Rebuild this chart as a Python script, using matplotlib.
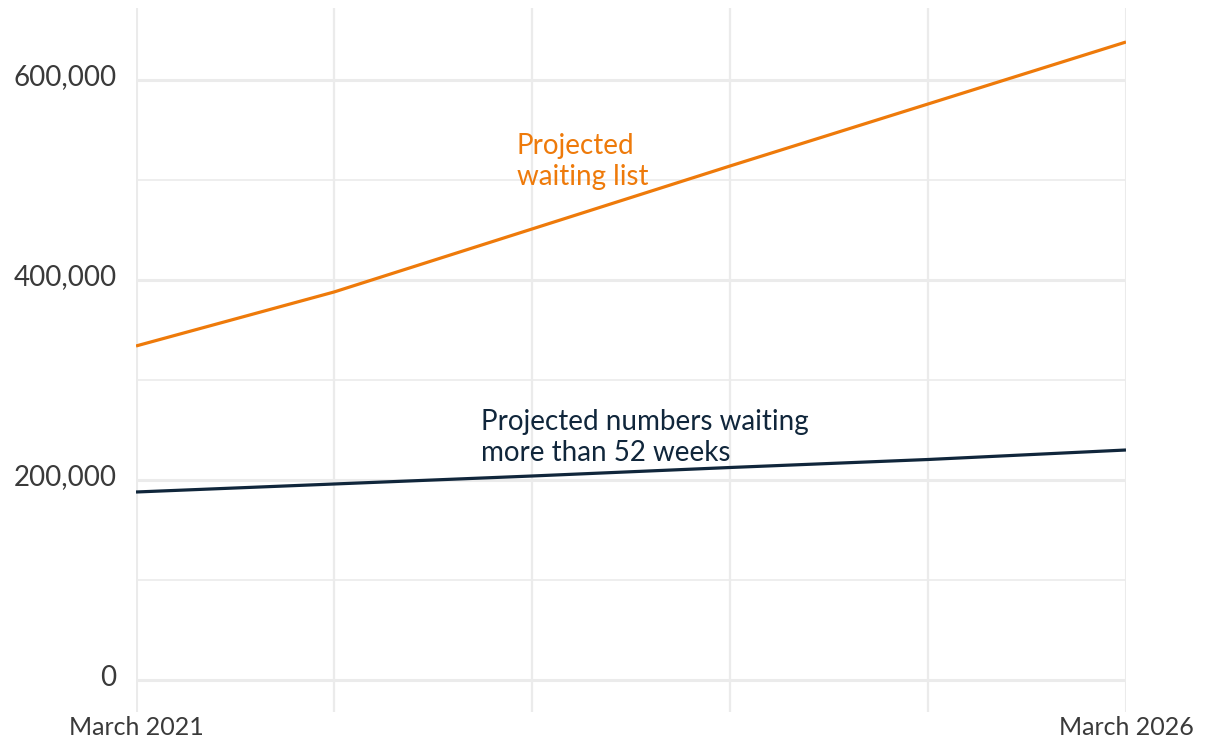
import matplotlib.pyplot as plt
import matplotlib.transforms as mtransforms
import numpy as np

# projected values, March of each year
years = [2021, 2022, 2023, 2024, 2025, 2026]
waiting_list = [334000, 388000, 451000, 514000, 576000, 638000]
over_52_weeks = [188000, 196000, 204000, 212500, 220500, 230000]

x_labels = ['March 2021', '', '', '', '', 'March 2026']
y_major = [0, 200000, 400000, 600000]
y_minor = [100000, 300000, 500000]

orange = '#EE7A0A'
navy = '#10263B'
grid_col = '#EBEBEB'
text_col = '#3A3A3A'

plt.rcParams['font.family'] = ['Lato', 'DejaVu Sans']

fig = plt.figure(figsize=(12.06, 7.40), dpi=100)
ax = fig.add_axes([136 / 1206, 1 - 712 / 740, 990 / 1206, 704 / 740])
ax.set_xlim(2021, 2026)
ax.set_ylim(-32000, 672000)

# grid lines
for y in y_major:
    ax.axhline(y, color=grid_col, lw=2.2, zorder=0)
for y in y_minor:
    ax.axhline(y, color=grid_col, lw=1.2, zorder=0)
for i, x in enumerate(years):
    w = 2.2 if i in (0, len(years) - 1) else 1.6
    ax.axvline(x, color=grid_col, lw=w, zorder=0)

ax.plot(years, waiting_list, color=orange, lw=2.3, solid_capstyle='butt')
ax.plot(years, over_52_weeks, color=navy, lw=2.3, solid_capstyle='butt')

ax.text(2022.924, 518500, 'Projected\nwaiting list', color=orange, fontsize=20,
        ha='left', va='center', linespacing=1.25)
ax.text(2022.742, 242500, 'Projected numbers waiting\nmore than 52 weeks', color=navy,
        fontsize=20, ha='left', va='center', linespacing=1.25)

ax.set_xticks(years)
ax.set_xticklabels(x_labels, fontsize=18, color=text_col)
ax.set_yticks(y_major)
ax.set_yticklabels([f'{v:,}' for v in y_major], fontsize=20, color=text_col)
ax.tick_params(axis='both', length=0)
ax.tick_params(axis='x', pad=3)
ax.tick_params(axis='y', pad=14)
shift = mtransforms.ScaledTranslation(0, 0.05, fig.dpi_scale_trans)
for lbl in ax.get_yticklabels():
    lbl.set_transform(lbl.get_transform() + shift)
for s in ax.spines.values():
    s.set_visible(False)

fig.savefig('out.png', dpi=100)
